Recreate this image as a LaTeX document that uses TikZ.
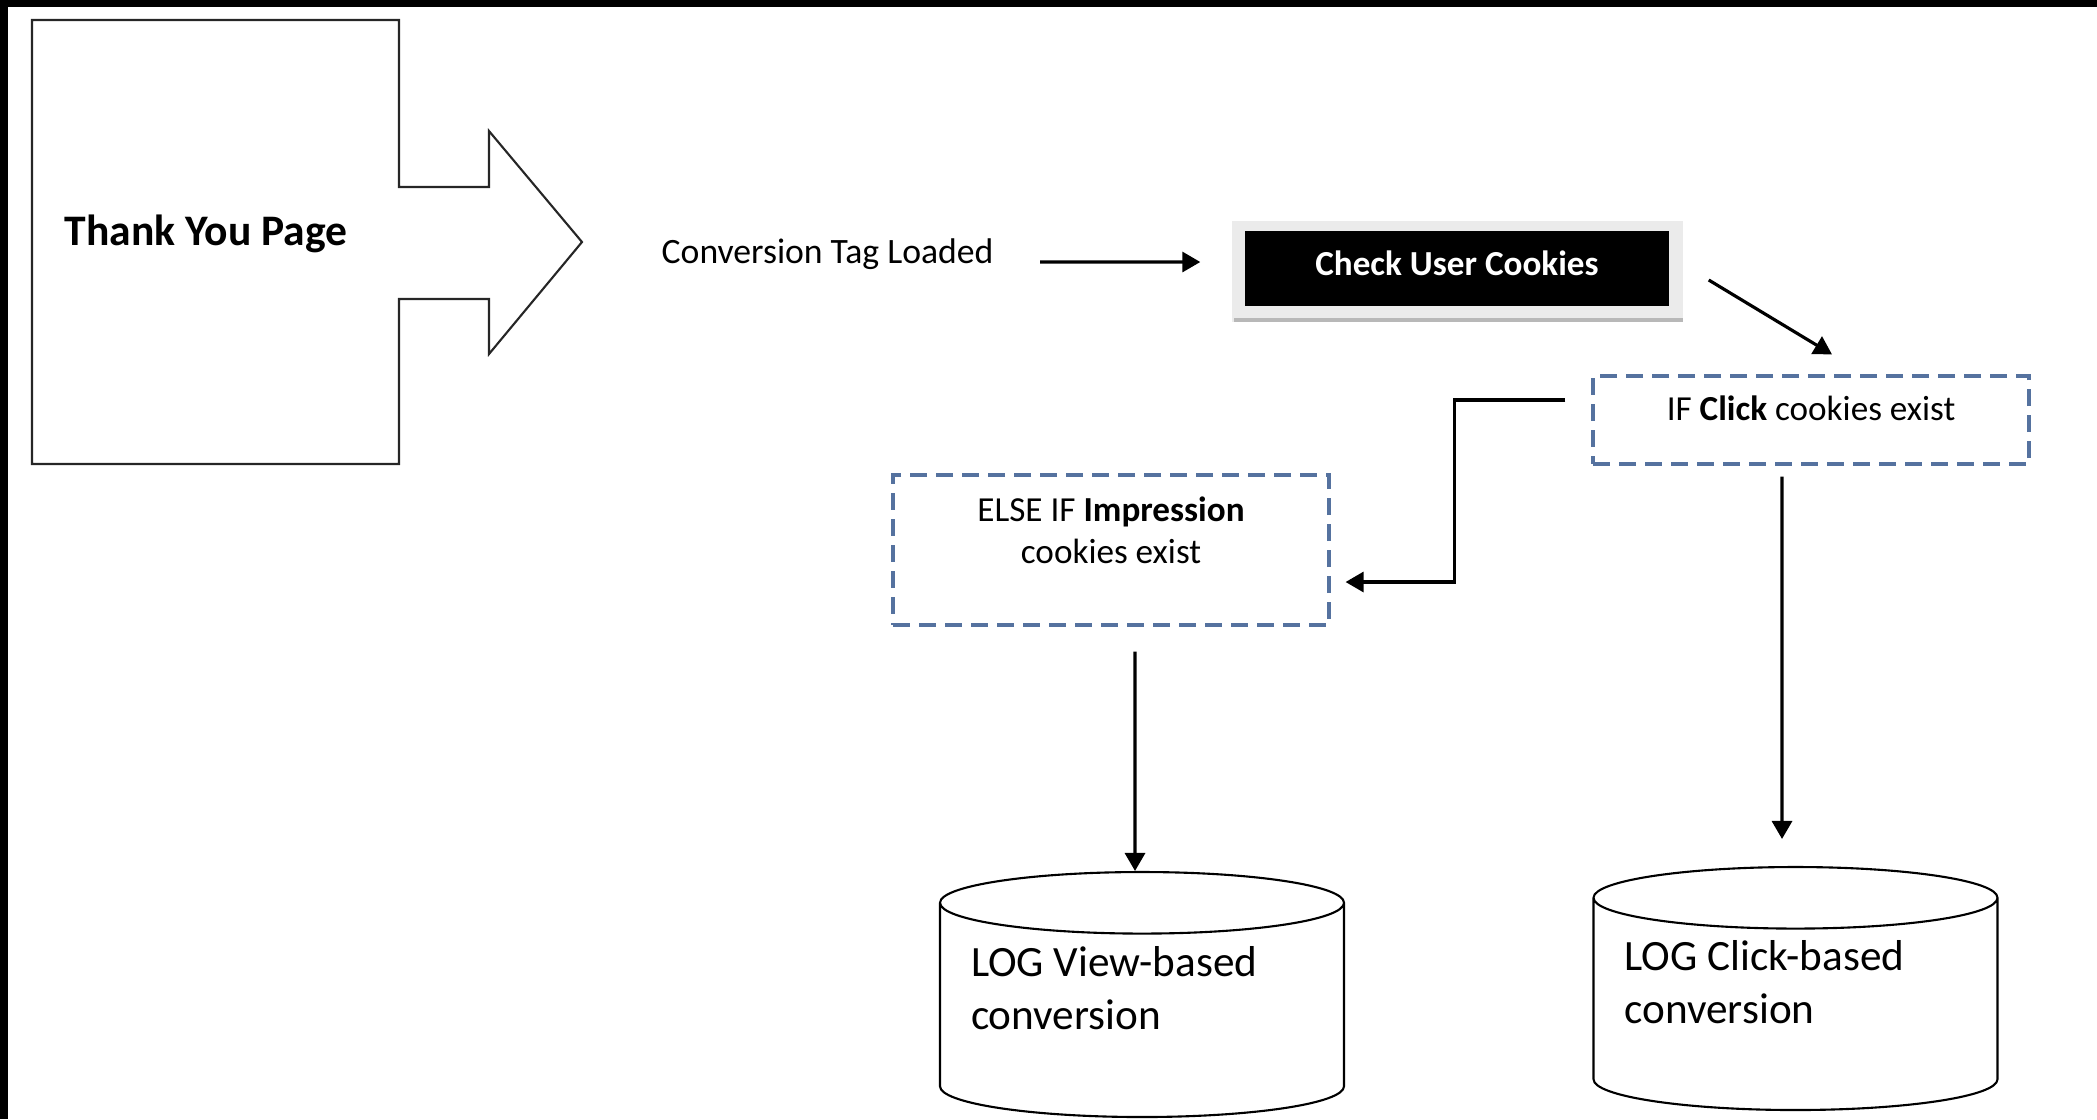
\documentclass[tikz,border=0pt]{standalone}
\usepackage{fontspec}
\setmainfont{Carlito}
\usepackage{xcolor}
\usepackage{tikz}
\usetikzlibrary{calc}
\usetikzlibrary{arrows.meta}
\usetikzlibrary{shapes}
\usetikzlibrary{shapes.geometric}
\usetikzlibrary{backgrounds}
\definecolor{dashblue}{HTML}{55729F}
\tikzset{>=latex}
\tikzstyle{conn} = [-{Triangle[length=1.8mm, width=2mm]}, line width=0.9pt]
\tikzstyle{cond} = [rectangle, draw=dashblue, line width=0.9pt, dash pattern=on 1.7mm off 0.9mm, minimum width=4.36cm, inner sep=0, font=\fontsize{10}{12}\selectfont]
\tikzstyle{logdb} = [cylinder, shape border rotate=90, draw, line width=0.6pt, fill=white, aspect=0.18, anchor=shape center, minimum width=4.04cm, minimum height=2.45cm, inner sep=0, font=\fontsize{12.3}{15}\selectfont]
\newcommand{\logtext}[1]{\raisebox{0.12cm}[0pt][0pt]{\parbox{3.42cm}{\raggedright #1}}}

\begin{document}
\begin{tikzpicture}
\useasboundingbox (0,0) rectangle (20.97,-11.19);
\fill [black] (0,0) rectangle (0.08,-11.19);
\fill [black] (0,0) rectangle (20.97,-0.07);
% page with its arrow
\draw [line width=0.6pt, draw=black!85] (0.32,-0.20) -- (3.99,-0.20) -- (3.99,-1.87) -- (4.89,-1.87) -- (4.89,-1.31) -- (5.82,-2.42) -- (4.89,-3.54) -- (4.89,-2.99) -- (3.99,-2.99) -- (3.99,-4.64) -- (0.32,-4.64) -- cycle;
\node [anchor=west, inner sep=0, font=\fontsize{12.4}{14}\selectfont\bfseries] (T) at (0.64,-2.34) {Thank You Page};
\node [anchor=west, inner sep=0, font=\fontsize{10.15}{12}\selectfont] (G) at (6.61,-2.54) {Conversion Tag Loaded};
\node [rectangle, fill=black, text=white, inner sep=0, minimum width=4.24cm, minimum height=0.75cm, text height=0.14cm, text depth=0cm, font=\fontsize{10}{12}\selectfont\bfseries] (C) at (14.57,-2.685) {Check User Cookies};
\begin{scope}[on background layer]
\fill [black!8] ([xshift=-1.2mm, yshift=0.9mm]C.north west) rectangle ([xshift=1.3mm, yshift=-1.5mm]C.south east);
\fill [black!28] ([xshift=-1.0mm, yshift=-1.1mm]C.south west) rectangle ([xshift=1.3mm, yshift=-1.5mm]C.south east);
\end{scope}
\node [cond, minimum height=0.88cm, text height=0pt, text depth=0pt] (I) at (18.11,-4.20) {IF \textbf{Click} cookies exist};
\node [cond, minimum height=1.50cm] (E) at (11.11,-5.50) {\raisebox{0.7mm}[0pt][0pt]{\begin{tabular}{@{}c@{}}ELSE IF \textbf{Impression}\\cookies exist\end{tabular}}};
\node [logdb] (V) at (11.42,-9.945) {\logtext{LOG View-based\\conversion}};
\node [logdb, minimum height=2.43cm] (K) at (17.955,-9.885) {\logtext{LOG Click-based\\conversion}};
\draw [conn] ([xshift=4.6mm, yshift=-0.8mm]G.east) -- ([xshift=-4.4mm, yshift=0.65mm]C.west);
\draw [conn] ([xshift=3.9mm, yshift=-1.15mm]C.east) -- ([xshift=2.1mm, yshift=2mm]I.north);
\draw [conn] ([xshift=-2.6mm, yshift=2mm]I.west) -- ++(-1.11,0) |- ([xshift=1.5mm, yshift=-3.2mm]E.east);
\draw [conn] ([xshift=2.4mm, yshift=-2.5mm]E.south) -- ([xshift=-0.7mm]V.north);
\draw [conn] ([xshift=-2.9mm, yshift=-1.1mm]I.south) -- ([xshift=-1.35mm, yshift=2.7mm]K.north);
\end{tikzpicture}
\end{document}
